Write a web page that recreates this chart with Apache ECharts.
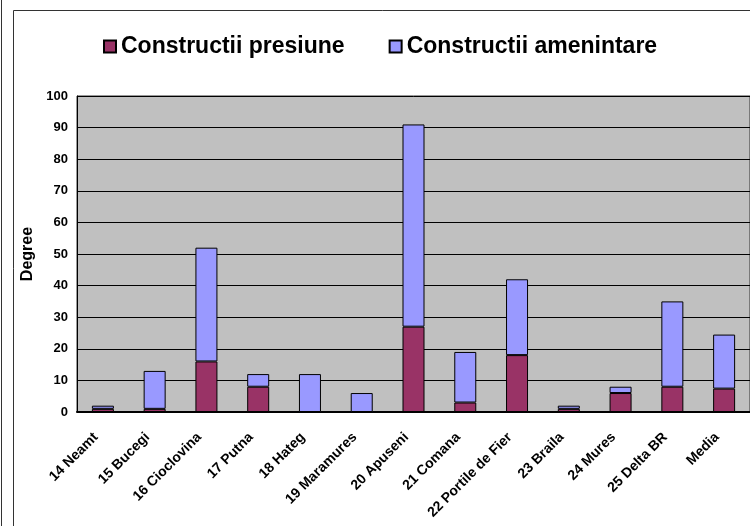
<!DOCTYPE html>
<html>
<head>
<meta charset="utf-8">
<script src="https://cdn.jsdelivr.net/npm/echarts@6/dist/echarts.min.js"></script>
<style>
  html, body { margin: 0; padding: 0; background: #fff; }
  #chart { width: 750px; height: 526px; }
</style>
</head>
<body>
<div id="chart"></div>
<script>
// date
var categories = ["14 Neamt", "15 Bucegi", "16 Cioclovina", "17 Putna", "18 Hateg", "19 Maramures",
  "20 Apuseni", "21 Comana", "22 Portile de Fier", "23 Braila", "24 Mures", "25 Delta BR", "Media"];
var presiune = [1, 1, 16, 8, 0, 0, 27, 3, 18, 1, 6, 8, 7.4];
var amenintare = [1, 12, 36, 4, 12, 6, 64, 16, 24, 1, 2, 27, 17.1];
var seriesNames = ["Constructii presiune", "Constructii amenintare"];

var font = "Liberation Sans, Arial, sans-serif";
var chart = echarts.init(document.getElementById("chart"));

chart.setOption({
  animation: false,
  backgroundColor: "#fff",
  textStyle: { fontFamily: font },
  graphic: [
    // chenarul exterior
    {
      type: "rect",
      shape: { x: 13.5, y: 10.5, width: 760, height: 540 },
      style: { fill: null, stroke: "#333", lineWidth: 1 }
    },
    {
      type: "line",
      shape: { x1: 1.5, y1: 0, x2: 1.5, y2: 526 },
      style: { stroke: "#333", lineWidth: 1 }
    }
  ],
  legend: {
    data: seriesNames,
    icon: "rect",
    left: 98,
    top: 30,
    itemWidth: 12,
    itemHeight: 12,
    itemGap: 44,
    textStyle: { fontSize: 23, fontWeight: "bold", color: "#000", fontFamily: font }
  },
  grid: {
    left: 77,
    top: 96,
    right: -4,
    bottom: 114,
    show: true,
    backgroundColor: "#c0c0c0",
    borderColor: "#333",
    borderWidth: 1
  },
  xAxis: {
    type: "category",
    data: categories,
    axisLine: { lineStyle: { color: "#000", width: 2 } },
    axisTick: { show: false },
    axisLabel: {
      interval: 0,
      rotate: 45,
      margin: 16,
      padding: [0, 10, 0, 0],
      fontSize: 14,
      fontWeight: "bold",
      color: "#000",
      fontFamily: font
    }
  },
  yAxis: {
    type: "value",
    min: 0,
    max: 100,
    interval: 10,
    name: "Degree",
    nameLocation: "middle",
    nameGap: 35,
    nameTextStyle: { fontSize: 16, fontWeight: "bold", color: "#000", fontFamily: font },
    axisLine: { show: true, lineStyle: { color: "#000", width: 1 } },
    axisTick: { show: false },
    axisLabel: { fontSize: 13, fontWeight: "bold", color: "#000", margin: 9, fontFamily: font },
    splitLine: { lineStyle: { color: "#000", width: 1 } }
  },
  series: [
    {
      name: seriesNames[0],
      type: "bar",
      stack: "total",
      barWidth: 22,
      data: presiune,
      itemStyle: { color: "#993366", borderColor: "#000", borderWidth: 1 }
    },
    {
      name: seriesNames[1],
      type: "bar",
      stack: "total",
      barWidth: 22,
      data: amenintare,
      itemStyle: { color: "#9999ff", borderColor: "#000", borderWidth: 1 }
    }
  ]
});
</script>
</body>
</html>
